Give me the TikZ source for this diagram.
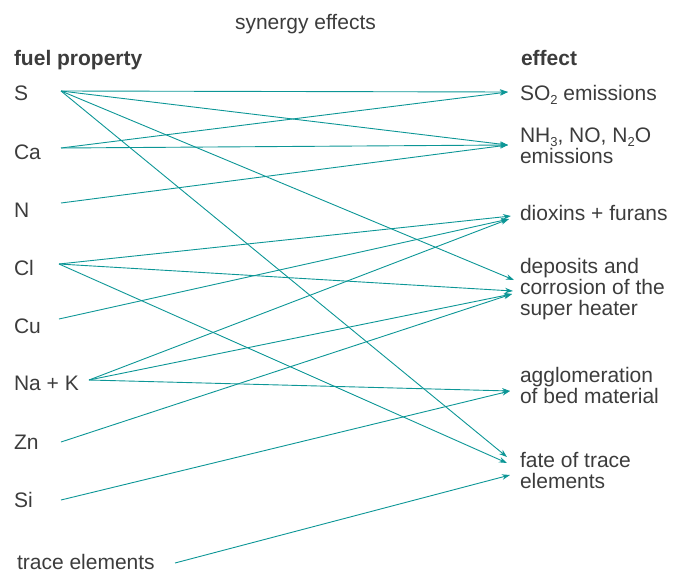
\documentclass[tikz,border=0pt]{standalone}
\usepackage{fontspec}
\setmainfont{Liberation Sans}
\usetikzlibrary{arrows.meta}
\definecolor{tealline}{RGB}{12,150,150}
\definecolor{txtgray}{RGB}{60,60,60}
\newcommand{\lowsub}[1]{\raisebox{-0.22em}{\fontsize{13}{13}\selectfont #1}}
\begin{document}
\begin{tikzpicture}[x=1pt,y=-1pt,
  every node/.style={inner sep=0pt,outer sep=0pt,text=txtgray,font=\fontsize{21}{21}\selectfont},
  lab/.style={anchor=base west},
  hdr/.style={anchor=base west,font=\fontsize{21}{21}\selectfont\bfseries},
  rlab/.style={anchor=base west,align=left},
  link/.style={draw=tealline,line width=0.9pt,-{Stealth[length=8pt,width=5.5pt]}}]
\useasboundingbox (0,0) rectangle (675,573);
% headers
\node[lab] (title) at (235,29) {synergy effects};
\node[hdr] (fp) at (14,65) {fuel property};
\node[hdr] (eff) at (521,65) {effect};
% left labels
\node[lab] (S) at (14,100) {S};
\node[lab] (Ca) at (14,159) {Ca};
\node[lab] (N) at (14,217) {N};
\node[lab] (Cl) at (14,275) {Cl};
\node[lab] (Cu) at (14,333) {Cu};
\node[lab] (NaK) at (14,390) {Na + K};
\node[lab] (Zn) at (14,449) {Zn};
\node[lab] (Si) at (14,507) {Si};
\node[lab] (TE) at (17,569) {trace elements};
% right labels (base anchor = baseline of last line)
\node[lab] (SO2) at (520,100) {SO\lowsub{2} emissions};
\node[rlab] (NH3) at (520,163) {NH\lowsub{3}, NO, N\lowsub{2}O\\emissions};
\node[lab] (Dio) at (520,220) {dioxins + furans};
\node[rlab] (Dep) at (520,315) {deposits and\\corrosion of the\\super heater};
\node[rlab] (Agg) at (520,403) {agglomeration\\of bed material};
\node[rlab] (Fate) at (520,488) {fate of trace\\elements};
% connector end points
\coordinate (sS) at (61,91);
\coordinate (sCa) at (61,148);
\coordinate (sN) at (61,203);
\coordinate (sCl) at (59,264);
\coordinate (sCu) at (59,319);
\coordinate (sNaK) at (89,380);
\coordinate (sZn) at (61,442);
\coordinate (sSi) at (61,500);
\coordinate (sTE) at (175,563);
\coordinate (tSO2) at (508,92);
\coordinate (tNH) at (508,145);
\coordinate (tDio) at (511,216);
\coordinate (tDioB) at (509,219);
\coordinate (tDepS) at (514,280);
\coordinate (tDepCl) at (513,291);
\coordinate (tDep) at (512,294);
\coordinate (tAgg) at (510,391);
\coordinate (tFateS) at (507,457);
\coordinate (tFateCl) at (507,463);
\coordinate (tFateT) at (510,475);
% connectors
\draw[link] (sS) -- (tSO2);
\draw[link] (sS) -- (tNH);
\draw[link] (sS) -- (tDepS);
\draw[link] (sS) -- (tFateS);
\draw[link] (sCa) -- (tSO2);
\draw[link] (sCa) -- (tNH);
\draw[link] (sN) -- (tNH);
\draw[link] (sCl) -- (tDio);
\draw[link] (sCl) -- (tDepCl);
\draw[link] (sCl) -- (tFateCl);
\draw[link] (sCu) -- (tDioB);
\draw[link] (sNaK) -- (tDioB);
\draw[link] (sNaK) -- (tDep);
\draw[link] (sNaK) -- (tAgg);
\draw[link] (sZn) -- (tDep);
\draw[link] (sSi) -- (tAgg);
\draw[link] (sTE) -- (tFateT);
\end{tikzpicture}
\end{document}
